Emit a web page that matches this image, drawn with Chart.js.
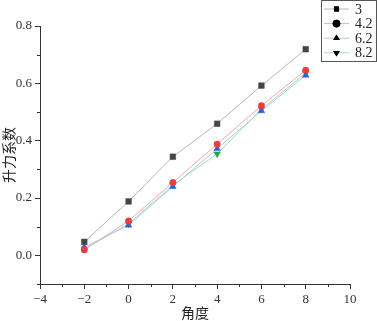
<!DOCTYPE html>
<html>
<head>
<meta charset="utf-8">
<script src="https://cdn.jsdelivr.net/npm/chart.js@4"></script>
<style>
  html, body { margin: 0; padding: 0; background: #fff; }
  #wrap { width: 377px; height: 321px; position: relative; }
</style>
</head>
<body>
<div id="wrap"><canvas id="chart"></canvas></div>
<script>
// angle of attack (x) and lift coefficient per series
const angles = [-2, 0, 2, 4, 6, 8];
const series3 = [0.047, 0.188, 0.344, 0.459, 0.592, 0.719];
const series42 = [0.019, 0.120, 0.254, 0.388, 0.522, 0.646];
const series62 = [0.028, 0.105, 0.240, 0.372, 0.504, 0.628];
const series82 = [0.022, 0.110, 0.245, 0.354, 0.510, 0.636];
const seriesLabels = ['3', '4.2', '6.2', '8.2'];

const xTicks = [-4, -2, 0, 2, 4, 6, 8, 10];
const yTicks = [0.0, 0.2, 0.4, 0.6, 0.8];

const numFont = "'Liberation Serif', 'DejaVu Serif', serif";
const cjkFont = "'Noto Sans CJK SC', sans-serif";

const toPoints = (ys) => angles.map((x, i) => ({ x: x, y: ys[i] }));

const styles = [
    { line: '#b8b8b8', fill: '#454545', shape: 'rect', r: 4, rot: 0 },
    { line: '#f7a8a8', fill: '#ee3b3b', shape: 'circle', r: 3.2, rot: 0 },
    { line: '#a6ccef', fill: '#2563d6', shape: 'triangle', r: 3.8, rot: 0 },
    { line: '#a6dcb6', fill: '#2e9e4f', shape: 'triangle', r: 3.8, rot: 180 }
];

const datasets = [series3, series42, series62, series82].map((ys, i) => ({
    label: seriesLabels[i],
    data: toPoints(ys),
    showLine: true,
    borderColor: styles[i].line,
    borderWidth: 1,
    pointStyle: styles[i].shape,
    pointRotation: styles[i].rot,
    pointRadius: styles[i].r,
    pointHoverRadius: styles[i].r,
    pointBackgroundColor: styles[i].fill,
    pointBorderColor: styles[i].fill,
    pointBorderWidth: 0.5
}));

// minor ticks + legend box, drawn after the chart
const extras = {
    id: 'extras',
    afterDraw(chart) {
        const ctx = chart.ctx;
        const xs = chart.scales.x, ys = chart.scales.y;
        const area = chart.chartArea;
        ctx.save();
        ctx.strokeStyle = '#333';
        ctx.lineWidth = 1;
        // minor ticks on x (odd values)
        for (let i = 0; i < xTicks.length - 1; i++) {
            const px = Math.round(xs.getPixelForValue((xTicks[i] + xTicks[i + 1]) / 2)) + 0.5;
            ctx.beginPath();
            ctx.moveTo(px, area.bottom);
            ctx.lineTo(px, area.bottom + 3);
            ctx.stroke();
        }
        // minor ticks on y
        const yMinor = [-0.1];
        for (let i = 0; i < yTicks.length - 1; i++) yMinor.push((yTicks[i] + yTicks[i + 1]) / 2);
        yMinor.forEach(v => {
            const py = Math.round(ys.getPixelForValue(v)) + 0.5;
            ctx.beginPath();
            ctx.moveTo(area.left, py);
            ctx.lineTo(area.left - 3, py);
            ctx.stroke();
        });

        // legend
        const bx = 321.5, by = 0.5, bw = 55, bh = 61;
        ctx.fillStyle = '#fff';
        ctx.fillRect(bx, by, bw, bh);
        ctx.strokeStyle = '#555';
        ctx.strokeRect(bx, by, bw, bh);
        ctx.font = '14px ' + numFont;
        ctx.textBaseline = 'middle';
        chart.data.datasets.forEach((ds, i) => {
            const cy = 9 + i * 14.6;
            ctx.strokeStyle = ds.borderColor;
            ctx.beginPath();
            ctx.moveTo(324, cy);
            ctx.lineTo(349, cy);
            ctx.stroke();
            ctx.fillStyle = '#000';
            Chart.helpers.drawPoint(ctx, {
                pointStyle: ds.pointStyle,
                rotation: ds.pointRotation,
                radius: ds.pointStyle === 'rect' ? 3.6 : 3.8,
                borderWidth: 0
            }, 336.5, cy);
            ctx.fill();
            ctx.fillStyle = '#222';
            ctx.fillText(ds.label, 355, cy + 1);
        });
        ctx.restore();
    }
};

new Chart(document.getElementById('chart'), {
    type: 'scatter',
    data: { datasets: datasets },
    options: {
        responsive: true,
        maintainAspectRatio: false,
        animation: false,
        layout: { padding: { top: 26, right: 27, left: 0, bottom: 0 } },
        plugins: {
            legend: { display: false },
            tooltip: { enabled: false }
        },
        scales: {
            x: {
                type: 'linear',
                min: -4,
                max: 10,
                afterBuildTicks: (scale) => { scale.ticks = xTicks.map(v => ({ value: v })); },
                afterFit: (scale) => { scale.height = 37; },
                border: { display: true, color: '#333', width: 1 },
                grid: { display: true, drawOnChartArea: false, drawTicks: true, tickLength: 5, color: '#333' },
                ticks: {
                    color: '#333',
                    padding: 3,
                    font: { family: numFont, size: 13 },
                    maxRotation: 0,
                    callback: (v) => (v < 0 ? '\u2212' + Math.abs(v) : String(v))
                },
                title: {
                    display: true,
                    text: '角度',
                    color: '#222',
                    padding: { top: 0, bottom: 0 },
                    font: { family: cjkFont, size: 14 }
                }
            },
            y: {
                type: 'linear',
                min: -0.1,
                max: 0.8,
                afterBuildTicks: (scale) => { scale.ticks = yTicks.map(v => ({ value: v })); },
                afterFit: (scale) => { scale.width = 40; },
                border: { display: true, color: '#333', width: 1 },
                grid: { display: true, drawOnChartArea: false, drawTicks: true, tickLength: 5, color: '#333' },
                ticks: {
                    color: '#333',
                    padding: 3,
                    font: { family: numFont, size: 13 },
                    callback: (v) => v.toFixed(1)
                },
                title: {
                    display: true,
                    text: '升力系数',
                    color: '#222',
                    padding: { top: 0, bottom: 0 },
                    font: { family: cjkFont, size: 14 }
                }
            }
        }
    },
    plugins: [extras]
});
</script>
</body>
</html>
